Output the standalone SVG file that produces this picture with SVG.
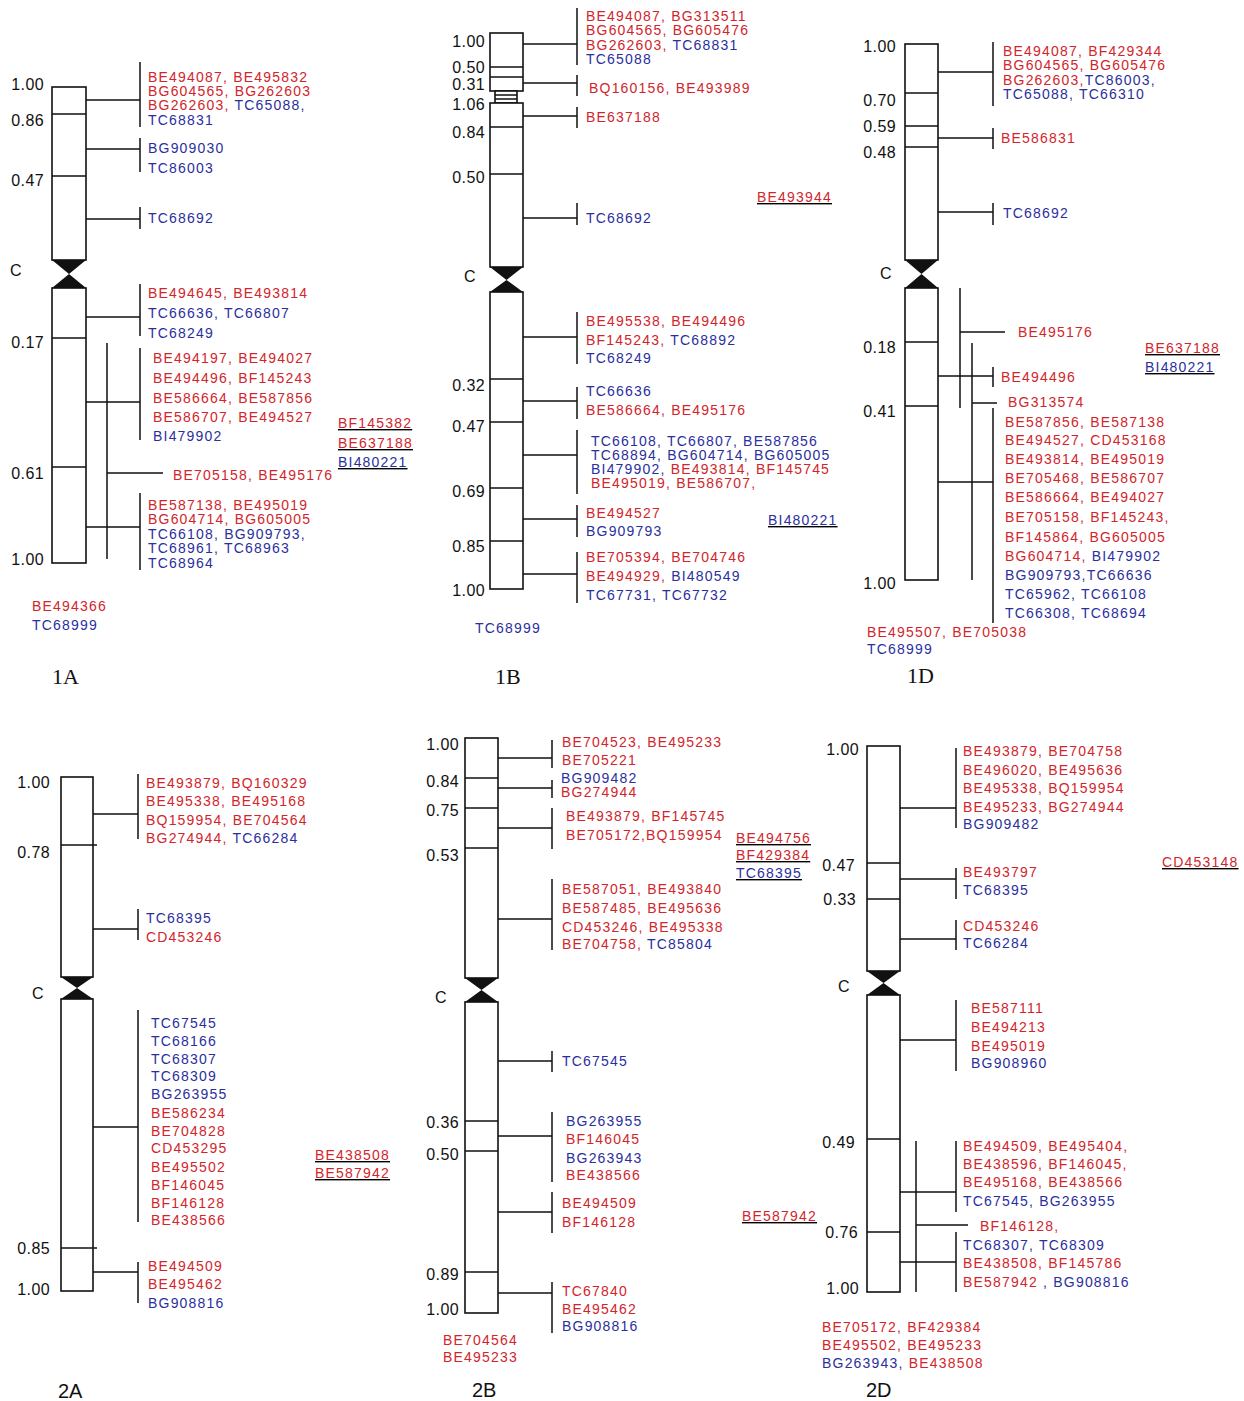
<svg xmlns="http://www.w3.org/2000/svg" width="1244" height="1401" viewBox="0 0 1244 1401">
<style>
text{font-family:"Liberation Sans",Arial,sans-serif}
.m{font-size:14px;letter-spacing:1.2px}
.r{fill:#d2252b}
.b{fill:#2b2f9e}
.n{font-size:16px;letter-spacing:0.4px;fill:#111;text-anchor:end}
.cc{font-size:16px;fill:#111}
.t{font-size:20px;fill:#111}
.ts{font-family:"Liberation Serif","Times New Roman",serif;font-size:22px}
.c{fill:#fff;stroke:#111;stroke-width:1.6}
.k{fill:#111}
.l{stroke:#111;stroke-width:1.5;fill:none}
.u{text-decoration:underline}
</style>
<rect width="1244" height="1401" fill="#fff"/>

<!-- ================= 1A ================= -->
<g id="chr-1A">
<rect class="c" x="52" y="87" width="34" height="173"/>
<path class="k" d="M52,260H86L69,274ZM69,274L86,288H52Z"/>
<rect class="c" x="52" y="288" width="34" height="275"/>
<path class="l" d="M52,114H86M52,176H86M52,338H86M52,467H86"/>
<text class="n" x="44" y="90">1.00</text>
<text class="n" x="44" y="126">0.86</text>
<text class="n" x="44" y="186">0.47</text>
<text class="cc" x="10" y="276">C</text>
<text class="n" x="44" y="348">0.17</text>
<text class="n" x="44" y="479">0.61</text>
<text class="n" x="44" y="565">1.00</text>
<text class="t ts" x="52" y="684">1A</text>
</g>
<g id="m-1A-1" class="m">
<text class="r" x="148" y="82">BE494087, BE495832</text>
<text class="r" x="148" y="96">BG604565, BG262603</text>
<text x="148" y="110"><tspan class="r">BG262603,</tspan><tspan class="b"> TC65088,</tspan></text>
<text class="b" x="148" y="125">TC68831</text>
</g>
<g id="m-1A-2" class="m">
<text class="b" x="148" y="153">BG909030</text>
<text class="b" x="148" y="173">TC86003</text>
</g>
<g id="m-1A-3" class="m"><text class="b" x="148" y="223">TC68692</text></g>
<g id="m-1A-4" class="m">
<text class="r" x="148" y="298">BE494645, BE493814</text>
<text class="b" x="148" y="318">TC66636, TC66807</text>
<text class="b" x="148" y="338">TC68249</text>
</g>
<g id="m-1A-5" class="m">
<text class="r" x="153" y="363">BE494197, BE494027</text>
<text class="r" x="153" y="383">BE494496, BF145243</text>
<text class="r" x="153" y="403">BE586664, BE587856</text>
<text class="r" x="153" y="422">BE586707, BE494527</text>
<text class="b" x="153" y="441">BI479902</text>
</g>
<g id="m-1A-6" class="m"><text class="r" x="173" y="480">BE705158, BE495176</text></g>
<g id="m-1A-7" class="m">
<text class="r" x="148" y="510">BE587138, BE495019</text>
<text class="r" x="148" y="524">BG604714, BG605005</text>
<text class="b" x="148" y="539">TC66108, BG909793,</text>
<text class="b" x="148" y="553">TC68961, TC68963</text>
<text class="b" x="148" y="568">TC68964</text>
</g>
<g id="u-1A" class="m u">
<text class="r" x="338" y="428">BF145382</text>
<text class="r" x="338" y="448">BE637188</text>
<text class="b" x="338" y="467">BI480221</text>
</g>
<g id="o-1A" class="m">
<text class="r" x="32" y="611">BE494366</text>
<text class="b" x="32" y="630">TC68999</text>
</g>

<!-- ================= 1B ================= -->
<g id="chr-1B">
<rect class="c" x="490" y="33" width="33" height="58"/>
<rect class="c" x="495" y="91" width="22" height="12"/>
<rect class="c" x="490" y="103" width="33" height="164"/>
<path class="k" d="M490,267H523L506.5,280ZM506.5,280L523,292H490Z"/>
<rect class="c" x="490" y="292" width="33" height="297"/>
<path class="l" d="M490,67H523M490,77H523M495,95H517M495,99H517M490,127H523M490,174H523M490,379H523M490,422H523M490,488H523M490,541H523"/>
<text class="n" x="485" y="47">1.00</text>
<text class="n" x="485" y="73">0.50</text>
<text class="n" x="485" y="90">0.31</text>
<text class="n" x="485" y="110">1.06</text>
<text class="n" x="485" y="138">0.84</text>
<text class="n" x="485" y="183">0.50</text>
<text class="cc" x="464" y="282">C</text>
<text class="n" x="485" y="391">0.32</text>
<text class="n" x="485" y="432">0.47</text>
<text class="n" x="485" y="497">0.69</text>
<text class="n" x="485" y="552">0.85</text>
<text class="n" x="485" y="596">1.00</text>
<text class="t ts" x="495" y="684">1B</text>
</g>
<g id="m-1B-1" class="m">
<text class="r" x="586" y="21">BE494087, BG313511</text>
<text class="r" x="586" y="35">BG604565, BG605476</text>
<text x="586" y="50"><tspan class="r">BG262603,</tspan><tspan class="b"> TC68831</tspan></text>
<text class="b" x="586" y="64">TC65088</text>
</g>
<g id="m-1B-2" class="m"><text class="r" x="589" y="93">BQ160156, BE493989</text></g>
<g id="m-1B-3" class="m"><text class="r" x="586" y="122">BE637188</text></g>
<g id="m-1B-4" class="m"><text class="b" x="586" y="223">TC68692</text></g>
<g id="u-1B-1" class="m u"><text class="r" x="757" y="202">BE493944</text></g>
<g id="m-1B-5" class="m">
<text class="r" x="586" y="326">BE495538, BE494496</text>
<text x="586" y="345"><tspan class="r">BF145243,</tspan><tspan class="b"> TC68892</tspan></text>
<text class="b" x="586" y="363">TC68249</text>
</g>
<g id="m-1B-6" class="m">
<text class="b" x="586" y="396">TC66636</text>
<text class="r" x="586" y="415">BE586664, BE495176</text>
</g>
<g id="m-1B-7" class="m">
<text class="b" x="591" y="446">TC66108, TC66807, BE587856</text>
<text class="b" x="591" y="460">TC68894, BG604714, BG605005</text>
<text x="591" y="474"><tspan class="b">BI479902,</tspan><tspan class="r"> BE493814, BF145745</tspan></text>
<text class="r" x="591" y="488">BE495019, BE586707,</text>
</g>
<g id="m-1B-8" class="m">
<text class="r" x="586" y="518">BE494527</text>
<text class="b" x="586" y="536">BG909793</text>
</g>
<g id="u-1B-2" class="m u"><text class="b" x="768" y="525">BI480221</text></g>
<g id="m-1B-9" class="m">
<text class="r" x="586" y="562">BE705394, BE704746</text>
<text x="586" y="581"><tspan class="r">BE494929,</tspan><tspan class="b"> BI480549</tspan></text>
<text class="b" x="586" y="600">TC67731, TC67732</text>
</g>
<g id="o-1B" class="m"><text class="b" x="475" y="633">TC68999</text></g>

<!-- ================= 1D ================= -->
<g id="chr-1D">
<rect class="c" x="905" y="44" width="33" height="216"/>
<path class="k" d="M905,260H938L921.5,274ZM921.5,274L938,288H905Z"/>
<rect class="c" x="905" y="288" width="33" height="292"/>
<path class="l" d="M905,93H938M905,126H938M905,147H938M905,342H938M905,406H938"/>
<text class="n" x="896" y="52">1.00</text>
<text class="n" x="896" y="106">0.70</text>
<text class="n" x="896" y="132">0.59</text>
<text class="n" x="896" y="158">0.48</text>
<text class="cc" x="880" y="279">C</text>
<text class="n" x="896" y="353">0.18</text>
<text class="n" x="896" y="417">0.41</text>
<text class="n" x="896" y="589">1.00</text>
<text class="t ts" x="907" y="683">1D</text>
</g>
<g id="m-1D-1" class="m">
<text class="r" x="1003" y="56">BE494087, BF429344</text>
<text class="r" x="1003" y="70">BG604565, BG605476</text>
<text x="1003" y="85"><tspan class="r">BG262603,</tspan><tspan class="b">TC86003,</tspan></text>
<text class="b" x="1003" y="99">TC65088, TC66310</text>
</g>
<g id="m-1D-2" class="m"><text class="r" x="1001" y="143">BE586831</text></g>
<g id="m-1D-3" class="m"><text class="b" x="1003" y="218">TC68692</text></g>
<g id="m-1D-4" class="m"><text class="r" x="1018" y="337">BE495176</text></g>
<g id="m-1D-5" class="m"><text class="r" x="1001" y="382">BE494496</text></g>
<g id="m-1D-6" class="m"><text class="r" x="1008" y="407">BG313574</text></g>
<g id="m-1D-7" class="m">
<text class="r" x="1005" y="427">BE587856, BE587138</text>
<text class="r" x="1005" y="445">BE494527, CD453168</text>
<text class="r" x="1005" y="464">BE493814, BE495019</text>
<text class="r" x="1005" y="483">BE705468, BE586707</text>
<text class="r" x="1005" y="502">BE586664, BE494027</text>
<text class="r" x="1005" y="522">BE705158, BF145243,</text>
<text class="r" x="1005" y="542">BF145864, BG605005</text>
<text x="1005" y="561"><tspan class="r">BG604714,</tspan><tspan class="b"> BI479902</tspan></text>
<text class="b" x="1005" y="580">BG909793,TC66636</text>
<text class="b" x="1005" y="599">TC65962, TC66108</text>
<text class="b" x="1005" y="618">TC66308, TC68694</text>
</g>
<g id="u-1D" class="m u">
<text class="r" x="1145" y="353">BE637188</text>
<text class="b" x="1145" y="372">BI480221</text>
</g>
<g id="o-1D" class="m">
<text class="r" x="867" y="637">BE495507, BE705038</text>
<text class="b" x="867" y="654">TC68999</text>
</g>

<!-- ================= 2A ================= -->
<g id="chr-2A">
<rect class="c" x="61" y="777" width="32" height="200"/>
<path class="k" d="M61,977H93L77,988ZM77,988L93,999H61Z"/>
<rect class="c" x="61" y="999" width="32" height="292"/>
<path class="l" d="M61,845H97M61,1248H97"/>
<text class="n" x="50" y="788">1.00</text>
<text class="n" x="50" y="858">0.78</text>
<text class="cc" x="32" y="999">C</text>
<text class="n" x="50" y="1254">0.85</text>
<text class="n" x="50" y="1295">1.00</text>
<text class="t" x="58" y="1398">2A</text>
</g>
<g id="m-2A-1" class="m">
<text class="r" x="146" y="788">BE493879, BQ160329</text>
<text class="r" x="146" y="806">BE495338, BE495168</text>
<text class="r" x="146" y="825">BQ159954, BE704564</text>
<text x="146" y="843"><tspan class="r">BG274944,</tspan><tspan class="b"> TC66284</tspan></text>
</g>
<g id="m-2A-2" class="m">
<text class="b" x="146" y="923">TC68395</text>
<text class="r" x="146" y="942">CD453246</text>
</g>
<g id="m-2A-3" class="m">
<text class="b" x="151" y="1028">TC67545</text>
<text class="b" x="151" y="1046">TC68166</text>
<text class="b" x="151" y="1064">TC68307</text>
<text class="b" x="151" y="1081">TC68309</text>
<text class="b" x="151" y="1099">BG263955</text>
<text class="r" x="151" y="1118">BE586234</text>
<text class="r" x="151" y="1136">BE704828</text>
<text class="r" x="151" y="1153">CD453295</text>
<text class="r" x="151" y="1172">BE495502</text>
<text class="r" x="151" y="1190">BF146045</text>
<text class="r" x="151" y="1208">BF146128</text>
<text class="r" x="151" y="1225">BE438566</text>
</g>
<g id="m-2A-4" class="m">
<text class="r" x="148" y="1271">BE494509</text>
<text class="r" x="148" y="1289">BE495462</text>
<text class="b" x="148" y="1308">BG908816</text>
</g>
<g id="u-2A" class="m u">
<text class="r" x="315" y="1160">BE438508</text>
<text class="r" x="315" y="1178">BE587942</text>
</g>

<!-- ================= 2B ================= -->
<g id="chr-2B">
<rect class="c" x="465" y="738" width="33" height="240"/>
<path class="k" d="M465,978H498L481.5,990ZM481.5,990L498,1002H465Z"/>
<rect class="c" x="465" y="1002" width="33" height="311"/>
<path class="l" d="M465,778H498M465,808H498M465,848H498M465,1121H498M465,1151H498M465,1272H498"/>
<text class="n" x="459" y="750">1.00</text>
<text class="n" x="459" y="787">0.84</text>
<text class="n" x="459" y="816">0.75</text>
<text class="n" x="459" y="861">0.53</text>
<text class="cc" x="435" y="1003">C</text>
<text class="n" x="459" y="1128">0.36</text>
<text class="n" x="459" y="1160">0.50</text>
<text class="n" x="459" y="1280">0.89</text>
<text class="n" x="459" y="1315">1.00</text>
<text class="t" x="472" y="1397">2B</text>
</g>
<g id="m-2B-1" class="m">
<text class="r" x="562" y="747">BE704523, BE495233</text>
<text class="r" x="562" y="765">BE705221</text>
</g>
<g id="m-2B-2" class="m">
<text class="b" x="561" y="783">BG909482</text>
<text class="r" x="561" y="797">BG274944</text>
</g>
<g id="m-2B-3" class="m">
<text class="r" x="566" y="821">BE493879, BF145745</text>
<text class="r" x="566" y="840">BE705172,BQ159954</text>
</g>
<g id="m-2B-4" class="m">
<text class="r" x="562" y="894">BE587051, BE493840</text>
<text class="r" x="562" y="913">BE587485, BE495636</text>
<text class="r" x="562" y="932">CD453246, BE495338</text>
<text x="562" y="949"><tspan class="r">BE704758,</tspan><tspan class="b"> TC85804</tspan></text>
</g>
<g id="u-2B-1" class="m u">
<text class="r" x="736" y="843">BE494756</text>
<text class="r" x="736" y="860">BF429384</text>
<text class="b" x="736" y="878">TC68395</text>
</g>
<g id="m-2B-5" class="m"><text class="b" x="562" y="1066">TC67545</text></g>
<g id="m-2B-6" class="m">
<text class="b" x="566" y="1126">BG263955</text>
<text class="r" x="566" y="1144">BF146045</text>
<text class="b" x="566" y="1163">BG263943</text>
<text class="r" x="566" y="1180">BE438566</text>
</g>
<g id="m-2B-7" class="m">
<text class="r" x="562" y="1208">BE494509</text>
<text class="r" x="562" y="1227">BF146128</text>
</g>
<g id="m-2B-8" class="m">
<text class="r" x="562" y="1296">TC67840</text>
<text class="r" x="562" y="1314">BE495462</text>
<text class="b" x="562" y="1331">BG908816</text>
</g>
<g id="u-2B-2" class="m u"><text class="r" x="742" y="1221">BE587942</text></g>
<g id="o-2B" class="m">
<text class="r" x="443" y="1345">BE704564</text>
<text class="r" x="443" y="1362">BE495233</text>
</g>

<!-- ================= 2D ================= -->
<g id="chr-2D">
<rect class="c" x="867" y="746" width="33" height="225"/>
<path class="k" d="M867,971H900L883.5,983ZM883.5,983L900,995H867Z"/>
<rect class="c" x="867" y="995" width="33" height="297"/>
<path class="l" d="M867,863H900M867,899H900M867,1139H900M867,1232H900"/>
<text class="n" x="859" y="755">1.00</text>
<text class="n" x="855" y="871">0.47</text>
<text class="n" x="856" y="905">0.33</text>
<text class="cc" x="838" y="992">C</text>
<text class="n" x="855" y="1148">0.49</text>
<text class="n" x="858" y="1238">0.76</text>
<text class="n" x="859" y="1294">1.00</text>
<text class="t" x="866" y="1397">2D</text>
</g>
<g id="m-2D-1" class="m">
<text class="r" x="963" y="756">BE493879, BE704758</text>
<text class="r" x="963" y="775">BE496020, BE495636</text>
<text class="r" x="963" y="793">BE495338, BQ159954</text>
<text class="r" x="963" y="812">BE495233, BG274944</text>
<text class="b" x="963" y="829">BG909482</text>
</g>
<g id="m-2D-2" class="m">
<text class="r" x="963" y="877">BE493797</text>
<text class="b" x="963" y="895">TC68395</text>
</g>
<g id="m-2D-3" class="m">
<text class="r" x="963" y="931">CD453246</text>
<text class="b" x="963" y="948">TC66284</text>
</g>
<g id="m-2D-4" class="m">
<text class="r" x="971" y="1013">BE587111</text>
<text class="r" x="971" y="1032">BE494213</text>
<text class="r" x="971" y="1051">BE495019</text>
<text class="b" x="971" y="1068">BG908960</text>
</g>
<g id="u-2D" class="m u"><text class="r" x="1162" y="867">CD453148</text></g>
<g id="m-2D-5" class="m">
<text class="r" x="963" y="1151">BE494509, BE495404,</text>
<text class="r" x="963" y="1169">BE438596, BF146045,</text>
<text class="r" x="963" y="1187">BE495168, BE438566</text>
<text class="b" x="963" y="1206">TC67545, BG263955</text>
</g>
<g id="m-2D-6" class="m"><text class="r" x="980" y="1231">BF146128,</text></g>
<g id="m-2D-7" class="m">
<text class="b" x="963" y="1250">TC68307, TC68309</text>
<text class="r" x="963" y="1268">BE438508, BF145786</text>
<text x="963" y="1287"><tspan class="r">BE587942</tspan><tspan class="b"> , BG908816</tspan></text>
</g>
<g id="o-2D" class="m">
<text class="r" x="822" y="1332">BE705172, BF429384</text>
<text class="r" x="822" y="1350">BE495502, BE495233</text>
<text x="822" y="1368"><tspan class="b">BG263943,</tspan><tspan class="r"> BE438508</tspan></text>
</g>

<!-- ================= connectors ================= -->
<g id="connectors" class="l">
<path d="M86,100H140M140,62V127M86,149H140M140,138V172M86,219H140M140,207V229M86,317H140M140,284V336M107,343V559M86,402H140M140,348V440M107,473H163M86,527H140M140,493V570"/>
<path d="M523,44H577M577,8V65M523,83H577M577,75V96M523,116H577M577,107V128M523,218H577M577,203V225M523,337H577M577,312V364M523,401H577M577,387V419M523,455H577M577,430V494M523,519H577M577,505V537M523,574H577M577,552V603"/>
<path d="M938,72H993M993,42V106M938,138H993M993,128V149M938,212H993M993,203V225M960,288V408M960,332H1005M972,343V580M938,376H993M993,367V387M972,403H997M938,482H993M993,408V623"/>
<path d="M93,814H138M138,774V839M93,929H138M138,909V940M93,1127H138M138,1010V1222M93,1272H138M138,1262V1303"/>
<path d="M498,758H552M552,740V768M498,788H552M552,780V798M498,828H552M552,808V849M498,919H552M552,879V950M498,1061H552M552,1051V1072M498,1136H552M552,1112V1182M498,1212H552M552,1192V1233M498,1293H552M552,1282V1333"/>
<path d="M900,808H956M956,748V828M900,879H956M956,868V899M900,939H956M956,920V950M900,1040H956M956,1000V1071M916,1141V1292M900,1192H956M956,1141V1212M916,1225H968M900,1262H956M956,1232V1292"/>
</g>
</svg>
